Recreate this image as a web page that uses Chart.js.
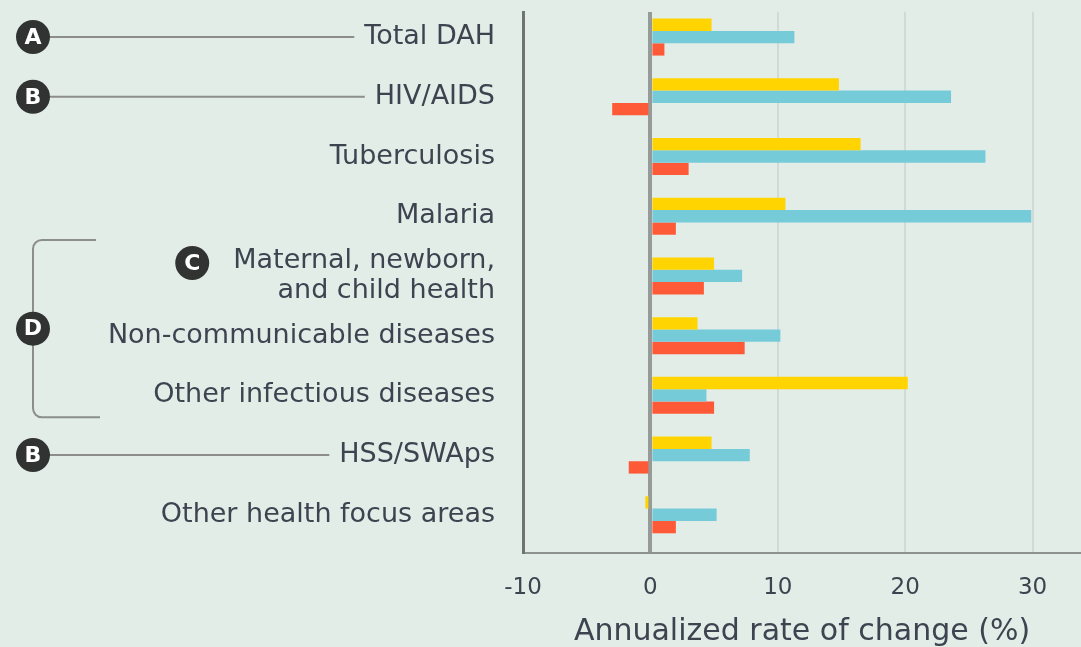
<!DOCTYPE html>
<html>
<head>
<meta charset="utf-8">
<script src="https://cdn.jsdelivr.net/npm/chart.js@4"></script>
<style>
  html, body { margin: 0; padding: 0; background: #e3ede8; }
  #wrap { width: 1081px; height: 647px; }
</style>
</head>
<body>
<div id="wrap"><canvas id="chart" width="1081" height="647"></canvas></div>
<script>
// categories, top to bottom (multi-line labels as arrays)
const categories = [
    ['Total DAH'],
    ['HIV/AIDS'],
    ['Tuberculosis'],
    ['Malaria'],
    ['Maternal, newborn,', 'and child health'],
    ['Non-communicable diseases'],
    ['Other infectious diseases'],
    ['HSS/SWAps'],
    ['Other health focus areas']
];

// annualized rate of change (%), three periods
const yellowValues = [4.8, 14.8, 16.5, 10.6, 5.0, 3.7, 20.2, 4.8, -0.4];
const blueValues = [11.3, 23.6, 26.3, 29.9, 7.2, 10.2, 4.4, 7.8, 5.2];
const redValues = [1.1, -3.0, 3.0, 2.0, 4.2, 7.4, 5.0, -1.7, 2.0];

const xTickValues = [-10, 0, 10, 20, 30];
const xTitle = 'Annualized rate of change (%)';

// letter markers with leader lines to a row label
const leaderMarkers = [
    {letter: 'A', row: 0},
    {letter: 'B', row: 1},
    {letter: 'B', row: 7}
];

const textColor = '#3d4450';
const labelFont = 'DejaVu Sans';

function toPoints(values) {
    return values.map((v, i) => ({x: v, y: i}));
}

function drawMarker(ctx, x, y, letter) {
    ctx.beginPath();
    ctx.arc(x, y, 17, 0, Math.PI * 2);
    ctx.fillStyle = '#313333';
    ctx.fill();
    ctx.fillStyle = '#ffffff';
    ctx.font = 'bold 22px ' + labelFont;
    ctx.textAlign = 'center';
    ctx.textBaseline = 'middle';
    ctx.fillText(letter, x, y + 1);
}

const annotationPlugin = {
    id: 'annotations',
    afterDraw(chart) {
        const ctx = chart.ctx;
        const yScale = chart.scales.y;
        const labelRight = yScale.right - yScale.options.ticks.padding;
        const cx = 33;

        ctx.save();
        ctx.font = '27px ' + labelFont;

        // leader lines
        ctx.strokeStyle = '#8b8e8d';
        ctx.lineWidth = 2;
        leaderMarkers.forEach(m => {
            const py = yScale.getPixelForValue(m.row);
            const w = ctx.measureText(categories[m.row][0]).width;
            ctx.beginPath();
            ctx.moveTo(cx, py);
            ctx.lineTo(labelRight - w - 10, py);
            ctx.stroke();
        });

        // bracket for rows 4-6
        const top = yScale.getPixelForValue(4) - 36;
        const bottom = yScale.getPixelForValue(6) + 22;
        const r = 9;
        ctx.beginPath();
        ctx.moveTo(96, top);
        ctx.lineTo(cx + r, top);
        ctx.arcTo(cx, top, cx, top + r, r);
        ctx.lineTo(cx, bottom - r);
        ctx.arcTo(cx, bottom, cx + r, bottom, r);
        ctx.lineTo(100, bottom);
        ctx.stroke();

        // C next to maternal label
        const mWidth = ctx.measureText(categories[4][0]).width;
        const cY = yScale.getPixelForValue(4) - 13;
        const cX = labelRight - mWidth - 41;

        leaderMarkers.forEach(m => drawMarker(ctx, cx, yScale.getPixelForValue(m.row), m.letter));
        drawMarker(ctx, cx, (top + bottom) / 2, 'D');
        drawMarker(ctx, cX, cY, 'C');
        ctx.restore();
    }
};

const data = {
    datasets: [{
        label: 'Period 1',
        data: toPoints(yellowValues),
        backgroundColor: '#ffd400'
    }, {
        label: 'Period 2',
        data: toPoints(blueValues),
        backgroundColor: '#76cbd9'
    }, {
        label: 'Period 3',
        data: toPoints(redValues),
        backgroundColor: '#ff5a38'
    }]
};

const options = {
    responsive: false,
    animation: false,
    indexAxis: 'y',
    layout: {padding: {top: 12, right: 0, bottom: 0, left: 0}},
    datasets: {
        bar: {categoryPercentage: 0.62, barPercentage: 1.0, borderWidth: 0}
    },
    scales: {
        x: {
            type: 'linear',
            position: 'bottom',
            min: -10,
            max: 33.8,
            afterFit: scale => {
                scale.height = 94;
                scale.paddingLeft = 0;
                scale.paddingRight = 0;
            },
            afterBuildTicks: scale => { scale.ticks = xTickValues.map(v => ({value: v})); },
            ticks: {
                stepSize: 10,
                includeBounds: false,
                padding: 21,
                color: textColor,
                font: {family: labelFont, size: 23}
            },
            grid: {
                drawTicks: false,
                color: c => c.tick && c.tick.value === 0 ? '#969a98' : (c.tick && c.tick.value === -10 ? 'rgba(0,0,0,0)' : '#d2d9d6'),
                lineWidth: c => c.tick && c.tick.value === 0 ? 4 : 2
            },
            border: {color: '#8d918f', width: 2},
            title: {
                display: true,
                text: xTitle,
                color: textColor,
                font: {family: labelFont, size: 30, lineHeight: 1},
                padding: {top: 0, bottom: 0}
            }
        },
        y: {
            type: 'linear',
            reverse: true,
            offset: false,
            min: -0.42,
            max: 8.64,
            afterFit: scale => {
                scale.width = 523;
                scale.paddingTop = 0;
                scale.paddingBottom = 0;
            },
            ticks: {
                stepSize: 1,
                includeBounds: false,
                autoSkip: false,
                padding: 28,
                color: textColor,
                font: {family: labelFont, size: 27, lineHeight: 1.08},
                callback: v => Number.isInteger(v) && categories[v] ? categories[v] : ''
            },
            grid: {display: false, drawTicks: false, offset: false},
            border: {color: '#6f7372', width: 3}
        }
    },
    plugins: {
        legend: {display: false},
        tooltip: {enabled: false}
    }
};

new Chart(document.getElementById('chart').getContext('2d'), {
    type: 'bar',
    data: data,
    options: options,
    plugins: [annotationPlugin]
});
</script>
</body>
</html>
